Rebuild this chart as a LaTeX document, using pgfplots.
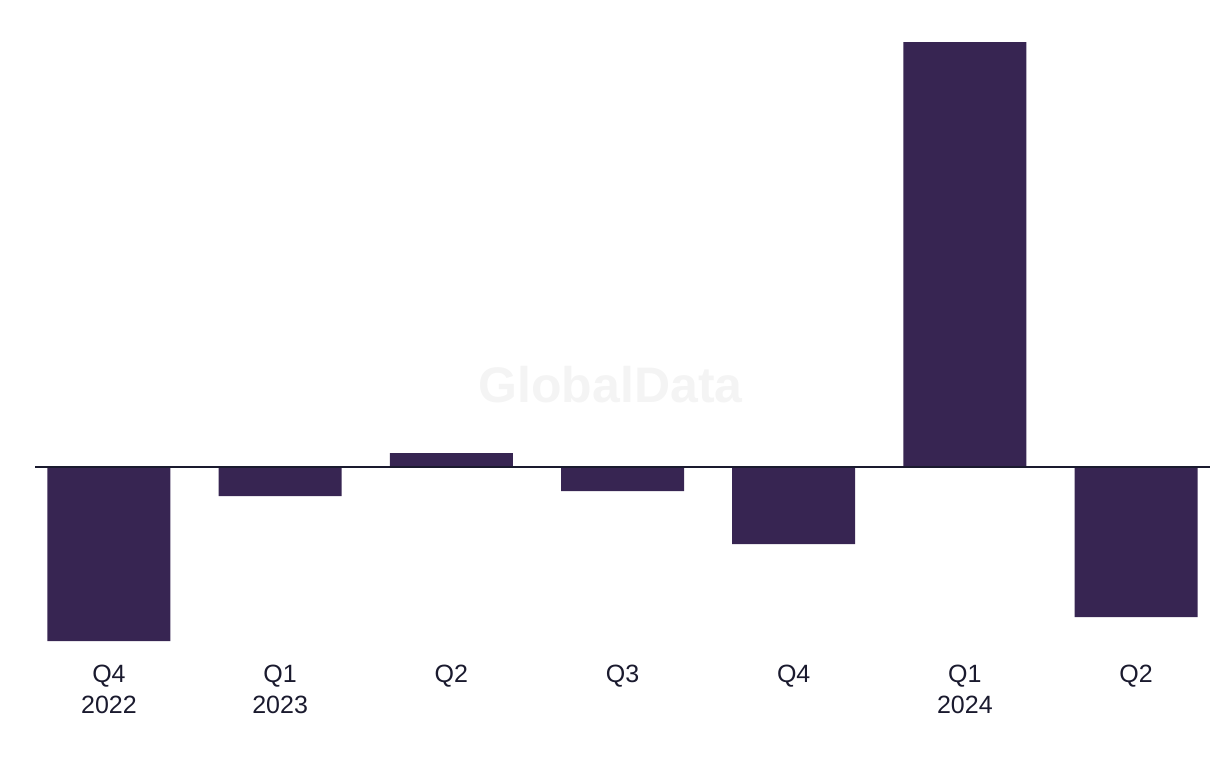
\documentclass[border=0pt]{standalone}
\usepackage{pgfplots}
\pgfplotsset{compat=1.18}
\usepackage{fontspec}
\setmainfont{Liberation Sans}
\definecolor{barc}{HTML}{372552}
\definecolor{txt}{HTML}{1A1A2E}
\definecolor{wm}{HTML}{F4F4F4}
\begin{document}
\begin{tikzpicture}
\useasboundingbox (-17.5pt,-63.5pt) rectangle (592.5pt,320.5pt);
\begin{axis}[
  scale only axis,
  width=587.5pt, height=299.5pt,
  xmin=-0.432, xmax=6.432,
  ymin=-174, ymax=425,
  axis x line*=bottom,
  axis y line=none,
  axis line style={draw=none},
  major tick length=0pt,
  tick style={draw=none},
  clip=false,
  xtick=data,
  xticklabels={{Q4\\2022},{Q1\\2023},{Q2},{Q3},{Q4},{Q1\\2024},{Q2}},
  ytick=\empty,
  xticklabel style={anchor=north, inner sep=0pt, align=center, text=txt,
    font=\fontsize{12.5}{15.5}\selectfont, yshift=-11.9pt},
]
\node[text=wm, font=\fontsize{25}{25}\selectfont\bfseries] at (axis cs:2.93,82) {GlobalData};
\addplot[ybar, bar width=61.5pt, fill=barc, draw=none, bar shift=0pt]
  coordinates {(0,-174) (1,-29) (2,14) (3,-24) (4,-77) (5,425) (6,-150)};
\draw[txt, line width=1pt] (axis cs:-0.432,0) -- (axis cs:6.432,0);
\end{axis}
\end{tikzpicture}
\end{document}
